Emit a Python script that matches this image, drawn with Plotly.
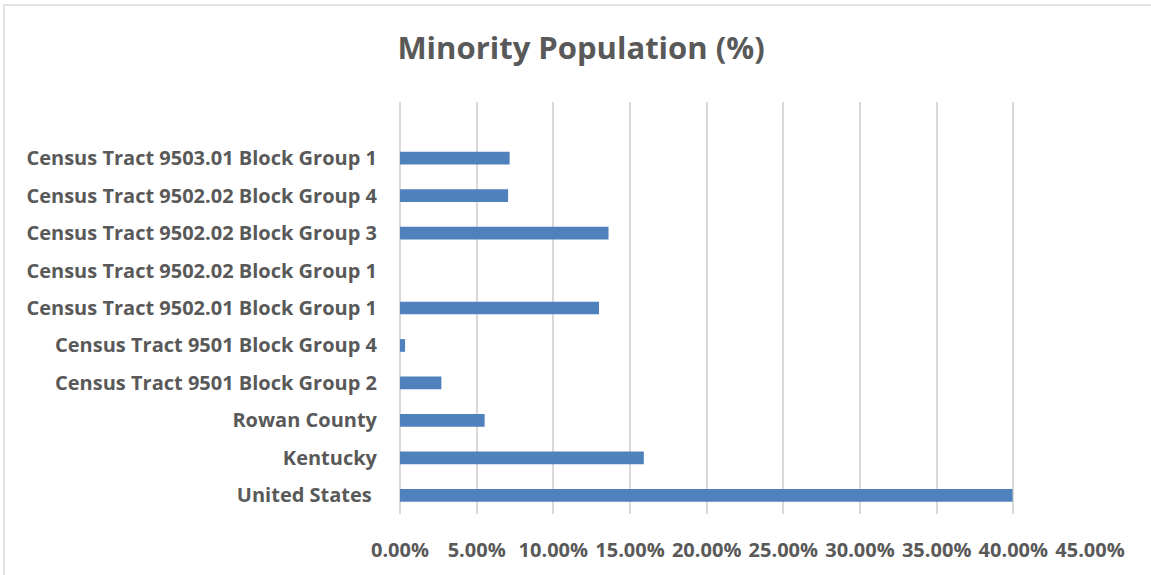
import plotly.graph_objects as go

categories = [
    "United States ",
    "Kentucky",
    "Rowan County",
    "Census Tract 9501 Block Group 2",
    "Census Tract 9501 Block Group 4",
    "Census Tract 9502.01 Block Group 1",
    "Census Tract 9502.02 Block Group 1",
    "Census Tract 9502.02 Block Group 3",
    "Census Tract 9502.02 Block Group 4",
    "Census Tract 9503.01 Block Group 1",
]
values = [0.3995, 0.159, 0.0552, 0.027, 0.0033, 0.1298, 0.0, 0.136, 0.0705, 0.0715]
x_ticks = [0, 0.05, 0.10, 0.15, 0.20, 0.25, 0.30, 0.35, 0.40, 0.45]
x_tick_labels = ["0.00%", "5.00%", "10.00%", "15.00%", "20.00%", "25.00%",
                 "30.00%", "35.00%", "40.00%", "45.00%"]

text_color = "#595959"
grid_color = "#D9D9D9"

fig = go.Figure(go.Bar(
    y=categories,
    x=values,
    orientation="h",
    marker=dict(color="#4F81BD", line=dict(width=0)),
    hoverinfo="x+y",
))

fig.update_layout(
    width=1151,
    height=575,
    paper_bgcolor="white",
    plot_bgcolor="white",
    margin=dict(l=400, r=61, t=102, b=57),
    bargap=0.66,
    showlegend=False,
    title=dict(
        text="Minority Population (%)",
        x=0.5048,
        xanchor="center",
        y=0.9155,
        yanchor="middle",
        font=dict(family="Open Sans", size=31, color=text_color, weight="bold"),
    ),
    font=dict(family="Open Sans", color=text_color),
    shapes=[dict(
        type="rect", xref="paper", yref="paper",
        x0=-396/690, x1=1+70/690, y0=-70/416, y1=1+98/416,
        line=dict(color="#D9D9D9", width=1.5),
    )],
)

fig.update_xaxes(
    range=[0, 0.45],
    tickvals=x_ticks,
    ticktext=x_tick_labels,
    showgrid=True,
    gridcolor=grid_color,
    gridwidth=1.5,
    zeroline=True,
    zerolinecolor=grid_color,
    zerolinewidth=1.5,
    showline=False,
    ticks="",
    ticklabelstandoff=22,
    tickfont=dict(family="Open Sans", size=20, color=text_color, weight="bold"),
    fixedrange=True,
)

fig.update_yaxes(
    type="category",
    categoryorder="array",
    categoryarray=categories,
    range=[-0.5, 10.5],
    showgrid=False,
    zeroline=False,
    showline=False,
    ticks="",
    ticklabelstandoff=22,
    tickfont=dict(family="Open Sans", size=20, color=text_color, weight="bold"),
    fixedrange=True,
)

fig.write_html(
    "out.html",
    config={"displayModeBar": False},
    post_script="document.body.style.margin='0';document.body.style.overflow='hidden';",
)
